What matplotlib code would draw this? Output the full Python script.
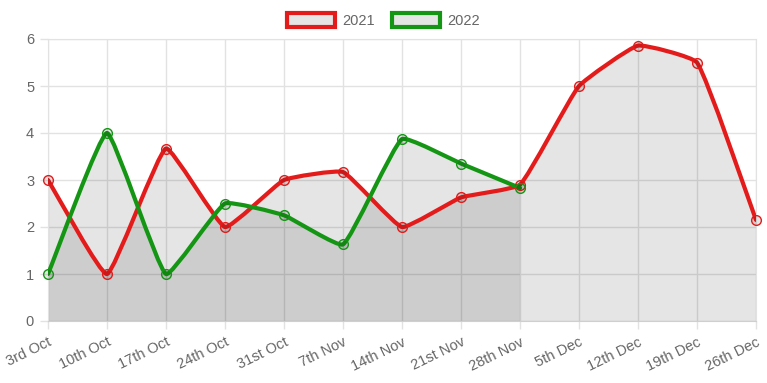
import numpy as np
import matplotlib
matplotlib.use('Agg')
import matplotlib.pyplot as plt
from matplotlib.path import Path
from matplotlib.patches import PathPatch, Patch

plt.rcParams['font.family'] = ['Liberation Sans', 'DejaVu Sans']

weeks = ['3rd Oct', '10th Oct', '17th Oct', '24th Oct', '31st Oct', '7th Nov', '14th Nov',
         '21st Nov', '28th Nov', '5th Dec', '12th Dec', '19th Dec', '26th Dec']
vals_2021 = [3, 1, 3.67, 2, 3, 3.17, 2, 2.63, 2.9, 5, 5.86, 5.5, 2.15]
vals_2022 = [1, 4, 1, 2.5, 2.25, 1.63, 3.87, 3.35, 2.83]

red = '#e41b1b'
green = '#149614'
grid_c = '#e2e2e2'
text_c = '#666666'
fill_c = (0, 0, 0, 0.1)

# pixel scale of one x step / one y unit, used for spline control points
SX, SY = 59.0, 47.0
TENSION = 0.12


def spline_path(ys, close=False):
    # bezier control points in the style of chart.js splineCurve
    xs = np.arange(len(ys), dtype=float)
    P = np.column_stack([xs * SX, np.asarray(ys, float) * SY])
    n = len(P)
    verts = [P[0]]
    codes = [Path.MOVETO]
    cps = []
    for i in range(n):
        prev = P[i - 1] if i > 0 else P[i]
        nxt = P[i + 1] if i < n - 1 else P[i]
        d01 = np.hypot(*(P[i] - prev))
        d12 = np.hypot(*(nxt - P[i]))
        tot = d01 + d12
        s01 = d01 / tot if tot else 0
        s12 = d12 / tot if tot else 0
        c_prev = P[i] - TENSION * s01 * (nxt - prev)
        c_next = P[i] + TENSION * s12 * (nxt - prev)
        cps.append((c_prev, c_next))
    for i in range(1, n):
        verts += [cps[i - 1][1], cps[i][0], P[i]]
        codes += [Path.CURVE4] * 3
    verts = np.array(verts) / [SX, SY]
    if close:
        verts = np.vstack([[xs[0], 0], verts, [xs[-1], 0], [xs[0], 0]])
        codes = [Path.MOVETO, Path.LINETO] + codes[1:] + [Path.LINETO, Path.CLOSEPOLY]
    return Path(verts, codes)


fig = plt.figure(figsize=(7.67, 3.83), dpi=100)
ax = fig.add_axes([48 / 767, 62 / 383, 708 / 767, 282 / 383])

for ys, col in [(vals_2021, red), (vals_2022, green)]:
    ax.add_patch(PathPatch(spline_path(ys, close=True), facecolor=fill_c, edgecolor='none', zorder=1))
for ys, col in [(vals_2021, red), (vals_2022, green)]:
    ax.add_patch(PathPatch(spline_path(ys), facecolor='none', edgecolor=col, lw=3,
                           capstyle='round', joinstyle='round', zorder=3))
    ax.plot(range(len(ys)), ys, linestyle='none', marker='o', ms=7, mfc=fill_c,
            mec=col, mew=1, zorder=4, clip_on=False)

ax.set_xlim(0, len(weeks) - 1)
ax.set_ylim(0, 6)
ax.set_xticks(range(len(weeks)))
ax.set_xticklabels(weeks, rotation=26, ha='right', rotation_mode='anchor')
ax.set_yticks(range(7))
ax.grid(True, color=grid_c, lw=1, zorder=0)
ax.set_axisbelow(True)
ax.tick_params(colors=grid_c, labelcolor=text_c, labelsize=10.5, length=6, width=1, pad=4)
for s in ax.spines.values():
    s.set_color(grid_c)
ax.spines['bottom'].set_color('#cfcfcf')

handles = [Patch(facecolor='#e5e5e5', edgecolor=red, lw=3, label='2021'),
           Patch(facecolor='#e5e5e5', edgecolor=green, lw=3, label='2022')]
fig.legend(handles=handles, loc='upper center', bbox_to_anchor=(0.5, 1.0), ncol=2,
           frameon=False, handlelength=3.3, handleheight=1.1, columnspacing=1.2,
           handletextpad=0.5, labelcolor=text_c, fontsize=10.5)

fig.savefig('out.png', dpi=100)
